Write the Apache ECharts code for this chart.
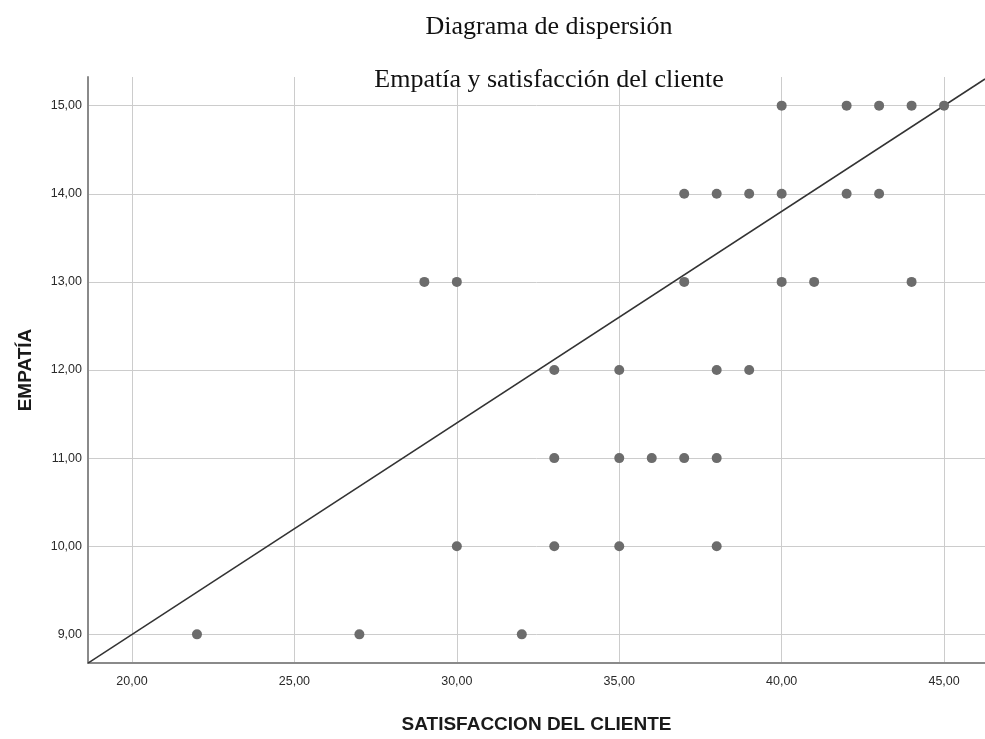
<!DOCTYPE html>
<html>
<head>
<meta charset="utf-8">
<script src="https://cdn.jsdelivr.net/npm/echarts@6/dist/echarts.min.js"></script>
<style>
html,body{margin:0;padding:0;background:#fff;}
#chart{width:985px;height:739px;}
</style>
</head>
<body>
<div id="chart"></div>
<script>
// Data (SATISFACCION DEL CLIENTE, EMPATÍA)
const satisfaccion = [40,42,43,44,45, 37,38,39,40,42,43, 29,30,37,40,41,44, 33,35,38,39, 33,35,36,37,38, 30,33,35,38, 22,27,32];
const empatia      = [15,15,15,15,15, 14,14,14,14,14,14, 13,13,13,13,13,13, 12,12,12,12, 11,11,11,11,11, 10,10,10,10, 9,9,9];
const xTicks = [20,25,30,35,40,45];
const yTicks = [9,10,11,12,13,14,15];
const fitIntercept = 4.2;
const fitSlope = 0.24;
const xRange = [18.645, 46.26];
const yRange = [8.675, 15.325];

const points = satisfaccion.map((x,i)=>[x, empatia[i]]);
const fitLine = xRange.map(x => [x, fitIntercept + fitSlope*x]);

const chart = echarts.init(document.getElementById('chart'));
const fmt = v => Number(v).toFixed(2).replace('.', ',');
chart.setOption({
  animation:false,
  backgroundColor:'#fff',
  title:[
    {text:'Diagrama de dispersión', left:544, textAlign:'center', top:9,
     textStyle:{fontFamily:'Liberation Serif', fontSize:26, fontWeight:'normal', color:'#111'}},
    {text:'Empatía y satisfacción del cliente', left:544, textAlign:'center', top:62,
     textStyle:{fontFamily:'Liberation Serif', fontSize:26, fontWeight:'normal', color:'#111'}}
  ],
  grid:{left:88, right:0, top:77, bottom:69, containLabel:false},
  xAxis:{
    type:'value', min:xRange[0], max:xRange[1],
    name:'SATISFACCION DEL CLIENTE', nameLocation:'middle', nameGap:52,
    nameTextStyle:{fontFamily:'Liberation Sans', fontWeight:'bold', fontSize:19, color:'#1a1a1a'},
    axisLine:{show:true, onZero:false, lineStyle:{color:'#8a8a8a', width:2}},
    axisTick:{show:false, customValues:xTicks},
    axisLabel:{customValues:xTicks, formatter:fmt, margin:12, fontFamily:'Liberation Sans', fontSize:12.5, color:'#2a2a2a'},
    splitLine:{show:true, lineStyle:{color:'#cccccc', width:1}}
  },
  yAxis:{
    type:'value', min:yRange[0], max:yRange[1],
    name:'EMPATÍA', nameLocation:'middle', nameGap:53, nameRotate:90,
    nameTextStyle:{fontFamily:'Liberation Sans', fontWeight:'bold', fontSize:19, color:'#1a1a1a'},
    axisLine:{show:true, onZero:false, lineStyle:{color:'#8a8a8a', width:2}},
    axisTick:{show:false, customValues:yTicks},
    axisLabel:{customValues:yTicks, formatter:fmt, margin:6, fontFamily:'Liberation Sans', fontSize:12.5, color:'#2a2a2a'},
    splitLine:{show:true, lineStyle:{color:'#cccccc', width:1}}
  },
  series:[
    {type:'line', data:fitLine, showSymbol:false, symbol:'none', clip:true,
     lineStyle:{color:'#333', width:1.5}, z:3, silent:true},
    {type:'scatter', data:points, symbolSize:10, itemStyle:{color:'#6c6c6c', opacity:1}, z:4}
  ]
});
</script>
</body>
</html>
